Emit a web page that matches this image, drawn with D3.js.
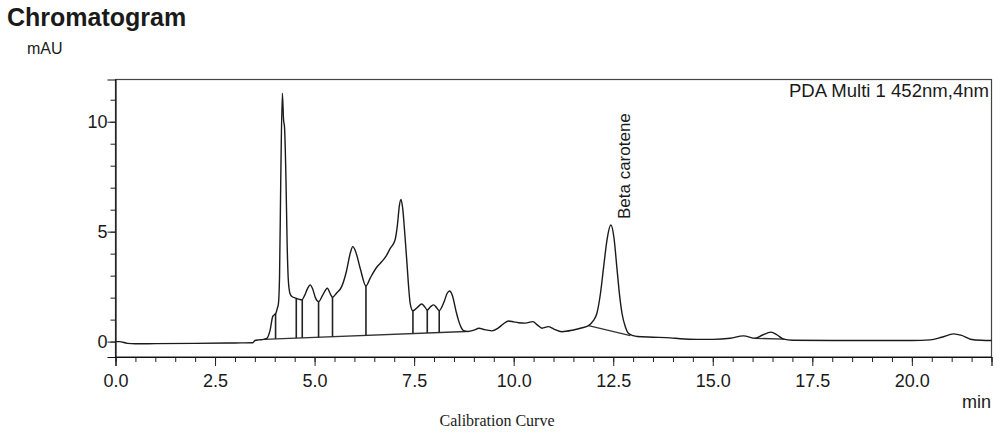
<!DOCTYPE html>
<html lang="en">
<head>
	<meta charset="utf-8">
	<script src="https://d3js.org/d3.v7.min.js"></script>
	<style>
		body { margin: 0; background: #fff; }
		svg text { font-family: "Liberation Sans", Arial, sans-serif; fill: #1a1a1a; }
	</style>
</head>
<body>
	<script type="text/javascript">

		var svgWidth = 997;
		var svgHeight = 436;

		// retention time (min) and absorbance (mAU)
		var traceTimes = [0, 0.1, 0.3, 0.5, 1, 2, 3, 3.45, 3.5, 3.6, 3.72, 3.8, 3.88, 3.95, 3.99, 4.03, 4.07, 4.09,
			4.12, 4.15, 4.19, 4.22, 4.245, 4.28, 4.31, 4.34, 4.38, 4.43, 4.54, 4.62, 4.68, 4.75, 4.82, 4.89,
			4.95, 5.02, 5.1, 5.2, 5.32, 5.4, 5.45, 5.55, 5.68, 5.8, 5.9, 5.96, 6.03, 6.15, 6.29, 6.4, 6.56,
			6.69, 6.8, 6.9, 7.02, 7.08, 7.13, 7.17, 7.21, 7.27, 7.32, 7.37, 7.4, 7.47, 7.58, 7.69, 7.76, 7.83,
			7.92, 7.99, 8.06, 8.13, 8.25, 8.33, 8.39, 8.46, 8.55, 8.61, 8.68, 8.74, 8.85, 9.0, 9.13, 9.25,
			9.45, 9.6, 9.75, 9.87, 10.0, 10.12, 10.29, 10.48, 10.6, 10.71, 10.87, 11.0, 11.21, 11.5, 11.7,
			11.88, 12.0, 12.09, 12.18, 12.26, 12.35, 12.44, 12.52, 12.59, 12.66, 12.72, 12.8, 12.88, 13.0,
			13.1, 13.5, 13.93, 14.18, 14.6, 15.0, 15.44, 15.77, 16.07, 16.25, 16.46, 16.62, 16.78, 17.0,
			18.0, 19.0, 20.0, 20.46, 20.75, 21.05, 21.25, 21.47, 21.75, 22.0];
		var traceSignal = [0, 0, -0.08, -0.1, -0.09, -0.08, -0.06, -0.05, 0.05, 0.08, 0.1, 0.15, 0.5, 1.15, 1.22, 1.3, 1.55, 1.7,
			3.0, 7.3, 11.3, 10.1, 9.75, 7.5, 4.5, 2.8, 2.2, 2.05, 1.97, 1.92, 1.9, 2.1, 2.4, 2.58,
			2.4, 2.0, 1.82, 2.1, 2.43, 2.15, 2.02, 2.2, 2.5, 3.2, 4.05, 4.32, 4.1, 3.3, 2.53, 2.9, 3.38,
			3.64, 3.9, 4.24, 4.62, 5.3, 6.2, 6.47, 6.1, 4.8, 3.56, 2.3, 1.74, 1.4, 1.55, 1.71, 1.6, 1.44,
			1.6, 1.67, 1.55, 1.41, 1.8, 2.2, 2.3, 2.1, 1.4, 0.99, 0.65, 0.5, 0.46, 0.52, 0.61, 0.55,
			0.49, 0.6, 0.82, 0.94, 0.9, 0.86, 0.84, 0.91, 0.75, 0.61, 0.68, 0.58, 0.45, 0.53, 0.62,
			0.73, 0.95, 1.29, 2.2, 3.41, 4.7, 5.3, 4.7, 3.4, 2.1, 1.29, 0.7, 0.38, 0.27,
			0.23, 0.2, 0.17, 0.13, 0.1, 0.1, 0.15, 0.26, 0.15, 0.3, 0.43, 0.3, 0.11, 0.06,
			0.05, 0.05, 0.05, 0.08, 0.2, 0.35, 0.28, 0.11, 0.06, 0.05];

		// integration baselines [t0, y0, t1, y1]
		var baselineSegments = [[3.72, 0.1, 8.8, 0.46], [11.88, 0.73, 12.93, 0.27], [16.07, 0.15, 16.8, 0.11]];
		// peak split (drop) lines, times in min
		var dropTimes = [4.02, 4.54, 4.69, 5.1, 5.45, 6.29, 7.47, 7.83, 8.13];

		var xMajorTicks = [0, 2.5, 5, 7.5, 10, 12.5, 15, 17.5, 20];
		var yMajorTicks = [0, 5, 10];

		var peakLabel = {name: "Beta carotene", time: 12.44};
		var detectorLabel = "PDA Multi 1 452nm,4nm";

		var trace = traceTimes.map(function(t, i) { return [t, traceSignal[i]]; });

		var svg = d3.select("body")
			.append("svg")
			.attr("width", svgWidth)
			.attr("height", svgHeight);

		var x = d3.scaleLinear().domain([0, 22]).range([115.5, 991.5]);
		var y = d3.scaleLinear().domain([-0.7, 11.92]).range([357, 79.5]);

		// frame
		svg.append("rect")
			.attr("x", x(0)).attr("y", y(11.92))
			.attr("width", x(22) - x(0)).attr("height", y(-0.7) - y(11.92))
			.attr("fill", "none").attr("stroke", "#444").attr("stroke-width", 1.2);

		// x axis, minor then major
		svg.append("g")
			.attr("transform", "translate(0," + y(-0.7) + ")")
			.call(d3.axisBottom(x).tickValues(d3.range(0, 22.01, 0.5)).tickSize(5).tickFormat(""))
			.call(function(g) { g.select(".domain").remove(); });
		var xAxisG = svg.append("g")
			.attr("transform", "translate(0," + y(-0.7) + ")")
			.call(d3.axisBottom(x).tickValues(xMajorTicks).tickSize(9).tickPadding(8).tickFormat(d3.format(".1f")));
		xAxisG.select(".domain").attr("stroke", "#111").attr("stroke-width", 1.2);
		xAxisG.selectAll("text").attr("font-size", 18).attr("fill", "#1a1a1a")
			.style("font-family", "'Liberation Sans', Arial, sans-serif");

		// y axis, minor then major
		svg.append("g")
			.attr("transform", "translate(" + x(0) + ",0)")
			.call(d3.axisLeft(y).tickValues(d3.range(-0, 11.5, 1)).tickSize(5).tickFormat(""))
			.call(function(g) { g.select(".domain").remove(); });
		var yAxisG = svg.append("g")
			.attr("transform", "translate(" + x(0) + ",0)")
			.call(d3.axisLeft(y).tickValues(yMajorTicks).tickSize(8).tickPadding(0).tickFormat(d3.format("d")));
		yAxisG.select(".domain").attr("stroke", "#111").attr("stroke-width", 1.2);
		yAxisG.selectAll("text").attr("font-size", 18).attr("fill", "#1a1a1a")
			.style("font-family", "'Liberation Sans', Arial, sans-serif");
		svg.selectAll(".tick line").attr("stroke", "#222");

		// interpolate signal at a time
		var bisect = d3.bisector(function(d) { return d[0]; }).left;
		function signalAt(t) {
			var i = bisect(trace, t);
			if (i <= 0) return trace[0][1];
			var a = trace[i - 1], b = trace[i];
			return a[1] + (b[1] - a[1]) * (t - a[0]) / (b[0] - a[0]);
		}
		function baselineAt(t) {
			var s = baselineSegments[0];
			return s[1] + (s[3] - s[1]) * (t - s[0]) / (s[2] - s[0]);
		}

		// baselines
		svg.selectAll(".baseline")
			.data(baselineSegments)
			.enter()
			.append("line")
				.attr("x1", function(d) { return x(d[0]); })
				.attr("y1", function(d) { return y(d[1]); })
				.attr("x2", function(d) { return x(d[2]); })
				.attr("y2", function(d) { return y(d[3]); })
				.attr("stroke", "#333").attr("stroke-width", 1.3);

		// drop lines
		svg.selectAll(".drop")
			.data(dropTimes)
			.enter()
			.append("line")
				.attr("x1", function(d) { return x(d); })
				.attr("x2", function(d) { return x(d); })
				.attr("y1", function(d) { return y(baselineAt(d)); })
				.attr("y2", function(d) { return y(signalAt(d)); })
				.attr("stroke", "#222").attr("stroke-width", 1.6);

		// chromatogram trace
		svg.append("path")
			.datum(trace)
			.attr("fill", "none")
			.attr("stroke", "#1a1a1a")
			.attr("stroke-width", 1.4)
			.attr("stroke-linejoin", "round")
			.attr("d", d3.line()
				.x(function(d) { return x(d[0]); })
				.y(function(d) { return y(d[1]); })
				.curve(d3.curveMonotoneX));

		// peak name
		svg.append("text")
			.attr("transform", "translate(" + (x(peakLabel.time) + 19) + "," + (y(signalAt(peakLabel.time)) - 6) + ") rotate(-90)")
			.attr("font-size", 17)
			.text(peakLabel.name);

		// texts
		svg.append("text")
			.attr("x", 989).attr("y", 97)
			.attr("text-anchor", "end")
			.attr("font-size", 18)
			.attr("textLength", 200)
			.attr("lengthAdjust", "spacingAndGlyphs")
			.text(detectorLabel);

		svg.append("text")
			.attr("x", 7).attr("y", 26)
			.attr("font-size", 25)
			.attr("font-weight", "bold")
			.attr("fill", "#111")
			.text("Chromatogram");

		svg.append("text")
			.attr("x", 27).attr("y", 54)
			.attr("font-size", 16)
			.text("mAU");

		svg.append("text")
			.attr("x", 991).attr("y", 408)
			.attr("text-anchor", "end")
			.attr("font-size", 18)
			.text("min");

		svg.append("text")
			.attr("x", 497).attr("y", 426)
			.attr("text-anchor", "middle")
			.attr("font-size", 16)
			.style("font-family", "'Liberation Serif', 'Times New Roman', serif")
			.text("Calibration Curve");

	</script>
</body>
</html>
